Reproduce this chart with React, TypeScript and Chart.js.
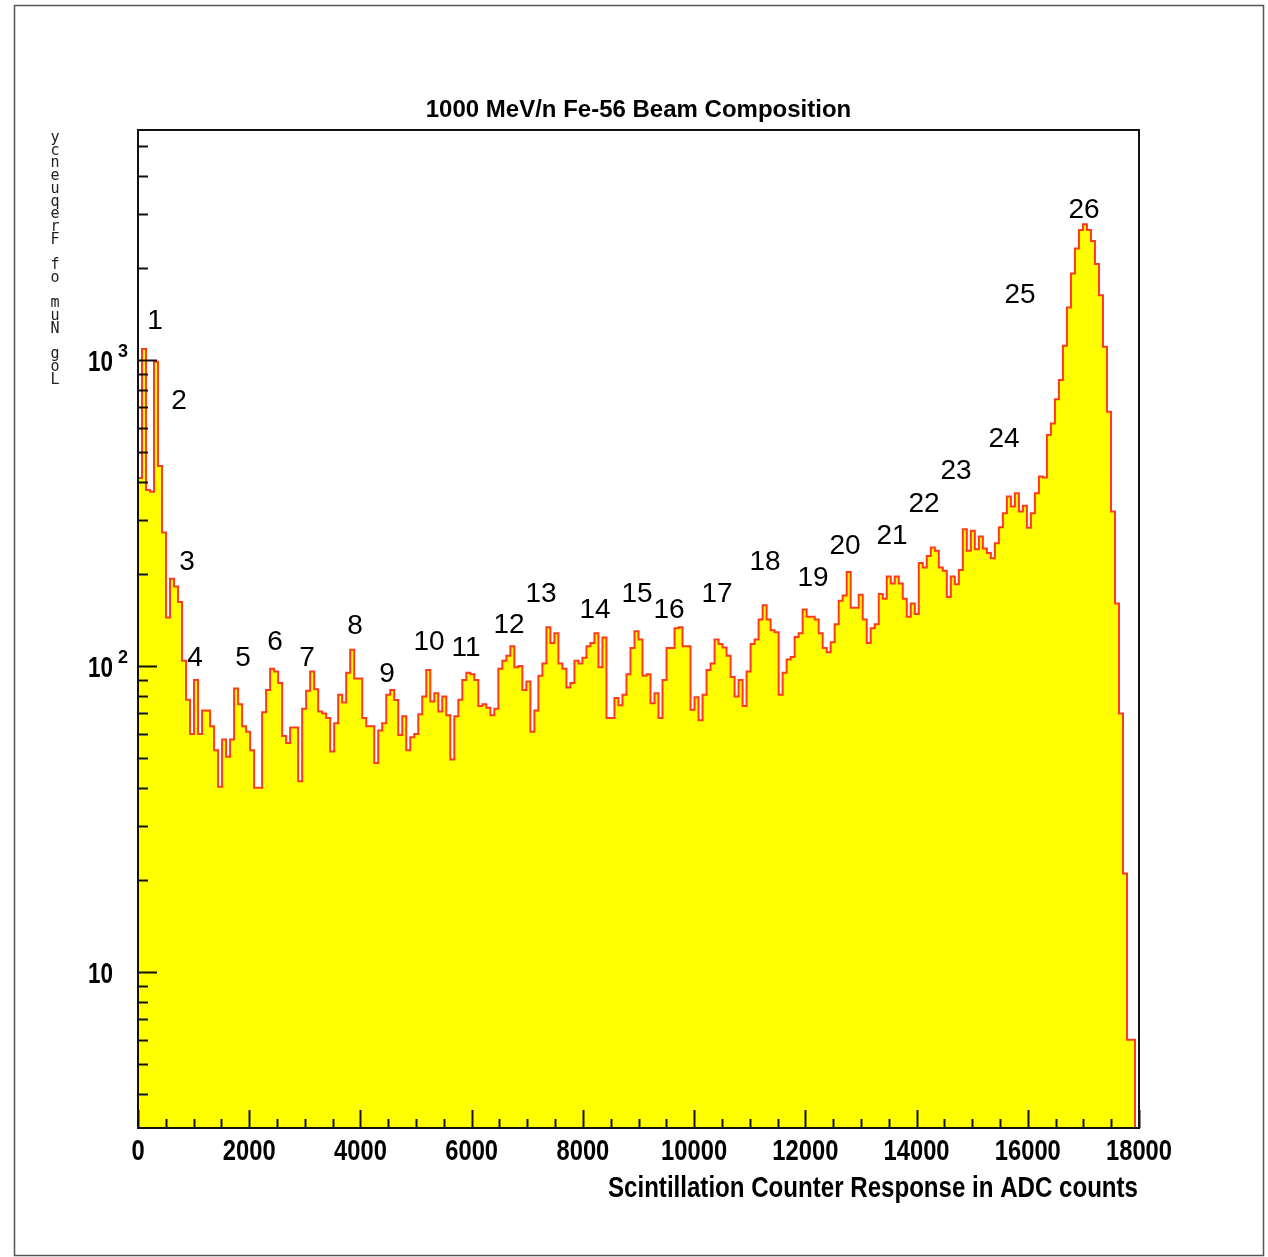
import React, { useEffect, useRef } from 'react';
import { Chart, registerables } from 'chart.js';

Chart.register(...registerables);

// ---- data -------------------------------------------------------------
const BIN_WIDTH = 72; // ADC counts per bin
const X_MIN = 0;
const X_MAX = 18000;
const Y_MIN = 3.09;
const Y_MAX = 5650;

const counts: number[] = [
  412, 1086, 376, 371, 987, 451, 273, 144, 193, 182,
  162, 104, 77.6, 60, 90, 60, 71.5, 71.5, 63.5, 53,
  40.3, 57.5, 50.5, 57.5, 84.5, 75, 63.5, 61, 53, 40,
  40, 70.6, 83.5, 98, 96, 88, 59, 56, 63, 63,
  42, 72.5, 83, 96, 84, 71, 70, 67.6, 52.6, 65,
  80.5, 76, 95, 113, 91, 91, 67.6, 63.5, 63.5, 48.2,
  61.5, 65, 80.5, 83.5, 77.5, 59.5, 68.5, 53, 58.5, 60,
  69.5, 79.5, 97, 76.5, 81.5, 71, 79.5, 69, 49.5, 68.5,
  77.6, 90, 95, 94, 90, 74, 75, 73, 69, 72.5,
  98, 104, 108, 116, 99, 100, 83.5, 89, 61, 71.5,
  93, 102, 134, 119, 128, 102, 98, 85, 88, 104,
  102, 106.5, 116, 119, 128, 99, 124, 67.6, 67.6, 78.6,
  74.5, 80.5, 94, 114.5, 130, 122, 93, 94, 75.5, 81.5,
  67.6, 90, 114.5, 114.5, 133, 134, 116, 116, 72, 79,
  66.5, 80.5, 97, 102, 122, 118, 115, 108, 92, 79.5,
  90, 74, 96, 118, 122, 142, 158, 142, 131, 129,
  80.5, 95, 105, 107, 124.5, 128, 153, 145, 145, 142,
  128, 114.5, 111, 119.5, 137, 163.5, 170, 203, 155, 155,
  171, 142, 119, 133, 137, 172, 166, 196, 186, 196,
  186, 166, 145, 160, 148, 217, 210, 229, 244, 238,
  210, 205, 168, 196, 185, 206, 280, 238, 277, 241,
  265, 242, 234, 225, 252, 284, 316, 358, 332, 367,
  320, 334, 283, 316, 367, 416, 413, 569, 621, 744,
  860, 1113, 1486, 1920, 2315, 2660, 2780, 2660, 2450, 2060,
  1630, 1105, 678, 320, 160, 70, 21, 6, 6, 0,
];

const xMajorTicks = [0, 2000, 4000, 6000, 8000, 10000, 12000, 14000, 16000, 18000];
const xMinorStep = 500;
const yMajorTicks = [10, 100, 1000];
const yMajorBase = ['10', '10', '10'];
const yMajorExp = ['', '2', '3'];

const peakNames = ['1', '2', '3', '4', '5', '6', '7', '8', '9', '10', '11', '12', '13',
  '14', '15', '16', '17', '18', '19', '20', '21', '22', '23', '24', '25', '26'];
const peakLabelX = [306, 737, 881, 1025, 1888, 2464, 3039, 3902, 4477, 5233, 5898, 6671, 7247,
  8218, 8973, 9548, 10412, 11275, 12138, 12713, 13558, 14134, 14709, 15572, 15860, 17011];
const peakLabelY = [1341, 735, 219, 106, 106, 120, 106, 135, 94, 120, 114.5, 136, 172,
  152, 172, 152, 172, 219, 194, 247, 266, 338, 433, 552, 1630, 3091];

const TITLE = '1000 MeV/n Fe-56 Beam Composition';
const X_TITLE = 'Scintillation Counter Response in ADC counts';
const Y_TITLE = 'Log Num of Frequency';

// ---- drawing helpers ---------------------------------------------------
const NARROW = '"Liberation Sans Narrow", "Liberation Sans", Arial, sans-serif';
const SANS = '"Liberation Sans", Arial, sans-serif';

const decorPlugin = {
  id: 'decor',
  beforeDraw(chart: any) {
    const { ctx, width, height } = chart;
    ctx.save();
    ctx.fillStyle = '#ffffff';
    ctx.fillRect(0, 0, width, height);
    ctx.restore();
  },
  afterDatasetsDraw(chart: any) {
    const { ctx, chartArea: a } = chart;
    const xs = chart.scales.x;
    const ys = chart.scales.y;
    ctx.save();

    // outer frame
    ctx.strokeStyle = '#555';
    ctx.lineWidth = 1.5;
    ctx.strokeRect(14.5, 5.5, 1249, 1250);

    // plot frame
    ctx.strokeStyle = '#111';
    ctx.lineWidth = 2;
    ctx.strokeRect(a.left, a.top, a.right - a.left, a.bottom - a.top);

    // y ticks (inward)
    ctx.lineWidth = 2;
    ctx.beginPath();
    for (let d = 1; d <= 1000; d *= 10) {
      for (let m = 1; m <= 9; m++) {
        const v = m * d;
        if (v < Y_MIN || v > Y_MAX) continue;
        const py = Math.round(ys.getPixelForValue(v)) + 0.5;
        const len = m === 1 ? 19 : 10;
        ctx.moveTo(a.left, py);
        ctx.lineTo(a.left + len, py);
      }
    }
    // x ticks (inward)
    for (let v = X_MIN; v <= X_MAX; v += xMinorStep) {
      const px = Math.round(xs.getPixelForValue(v)) + 0.5;
      const len = xMajorTicks.includes(v) ? 18 : 9;
      ctx.moveTo(px, a.bottom);
      ctx.lineTo(px, a.bottom - len);
    }
    ctx.stroke();

    ctx.fillStyle = '#000';
    // x tick labels
    ctx.font = `bold 29px ${NARROW}`;
    ctx.textAlign = 'center';
    ctx.textBaseline = 'alphabetic';
    xMajorTicks.forEach((v) => {
      const s = String(v);
      ctx.fillText(s, xs.getPixelForValue(v), 1160, s.length * 13.2);
    });

    // y tick labels
    yMajorTicks.forEach((v, i) => {
      const py = ys.getPixelForValue(v);
      ctx.font = `bold 29px ${NARROW}`;
      ctx.textAlign = 'right';
      ctx.textBaseline = 'alphabetic';
      ctx.fillText(yMajorBase[i], 113, py + 11, 25);
      if (yMajorExp[i]) {
        ctx.font = `bold 19px ${NARROW}`;
        ctx.textAlign = 'left';
        ctx.fillText(yMajorExp[i], 118, py - 3, 10);
      }
    });

    // title
    ctx.font = `bold 24px ${NARROW}`;
    ctx.textAlign = 'center';
    ctx.fillText(TITLE, 638.5, 117, 430);

    // x title
    ctx.font = `bold 29px ${NARROW}`;
    ctx.textAlign = 'right';
    ctx.fillText(X_TITLE, 1138, 1197, 530);

    // y title: stacked upright glyphs, read from bottom to top
    ctx.font = `15px "DejaVu Sans Mono", monospace`;
    ctx.fillStyle = '#222';
    ctx.textAlign = 'center';
    ctx.textBaseline = 'middle';
    const chars = Array.from(Y_TITLE).reverse();
    const step = (380 - 138) / (chars.length - 1);
    chars.forEach((c, i) => ctx.fillText(c, 55, 138 + i * step));

    // peak numbers
    ctx.fillStyle = '#000';
    ctx.font = `28px ${SANS}`;
    ctx.textAlign = 'center';
    ctx.textBaseline = 'middle';
    peakNames.forEach((n, i) => {
      ctx.fillText(n, xs.getPixelForValue(peakLabelX[i]), ys.getPixelForValue(peakLabelY[i]));
    });

    ctx.restore();
  },
};

export default function App() {
  const ref = useRef<HTMLCanvasElement | null>(null);

  useEffect(() => {
    if (!ref.current) return;
    const points = counts.map((c, i) => ({ x: X_MIN + i * BIN_WIDTH, y: c > 0 ? c : Y_MIN }));
    points.push({ x: X_MIN + counts.length * BIN_WIDTH, y: Y_MIN });

    const chart = new Chart(ref.current, {
      type: 'line',
      data: {
        datasets: [
          {
            data: points,
            stepped: 'before',
            borderColor: '#ff3a1a',
            borderWidth: 2,
            backgroundColor: '#ffff00',
            fill: 'start',
            pointRadius: 0,
            tension: 0,
          },
        ],
      },
      options: {
        animation: false,
        responsive: false,
        maintainAspectRatio: false,
        devicePixelRatio: 1,
        layout: { padding: { left: 138, top: 130, right: 129, bottom: 129 } },
        scales: {
          x: { type: 'linear', min: X_MIN, max: X_MAX, display: false },
          y: { type: 'logarithmic', min: Y_MIN, max: Y_MAX, display: false },
        },
        plugins: { legend: { display: false }, tooltip: { enabled: false } },
      },
      plugins: [decorPlugin],
    } as any);
    return () => chart.destroy();
  }, []);

  return (
    <div style={{ position: 'absolute', left: 0, top: 0, width: 1268, height: 1257 }}>
      <canvas ref={ref} width={1268} height={1257} style={{ width: 1268, height: 1257, display: 'block' }} />
    </div>
  );
}
